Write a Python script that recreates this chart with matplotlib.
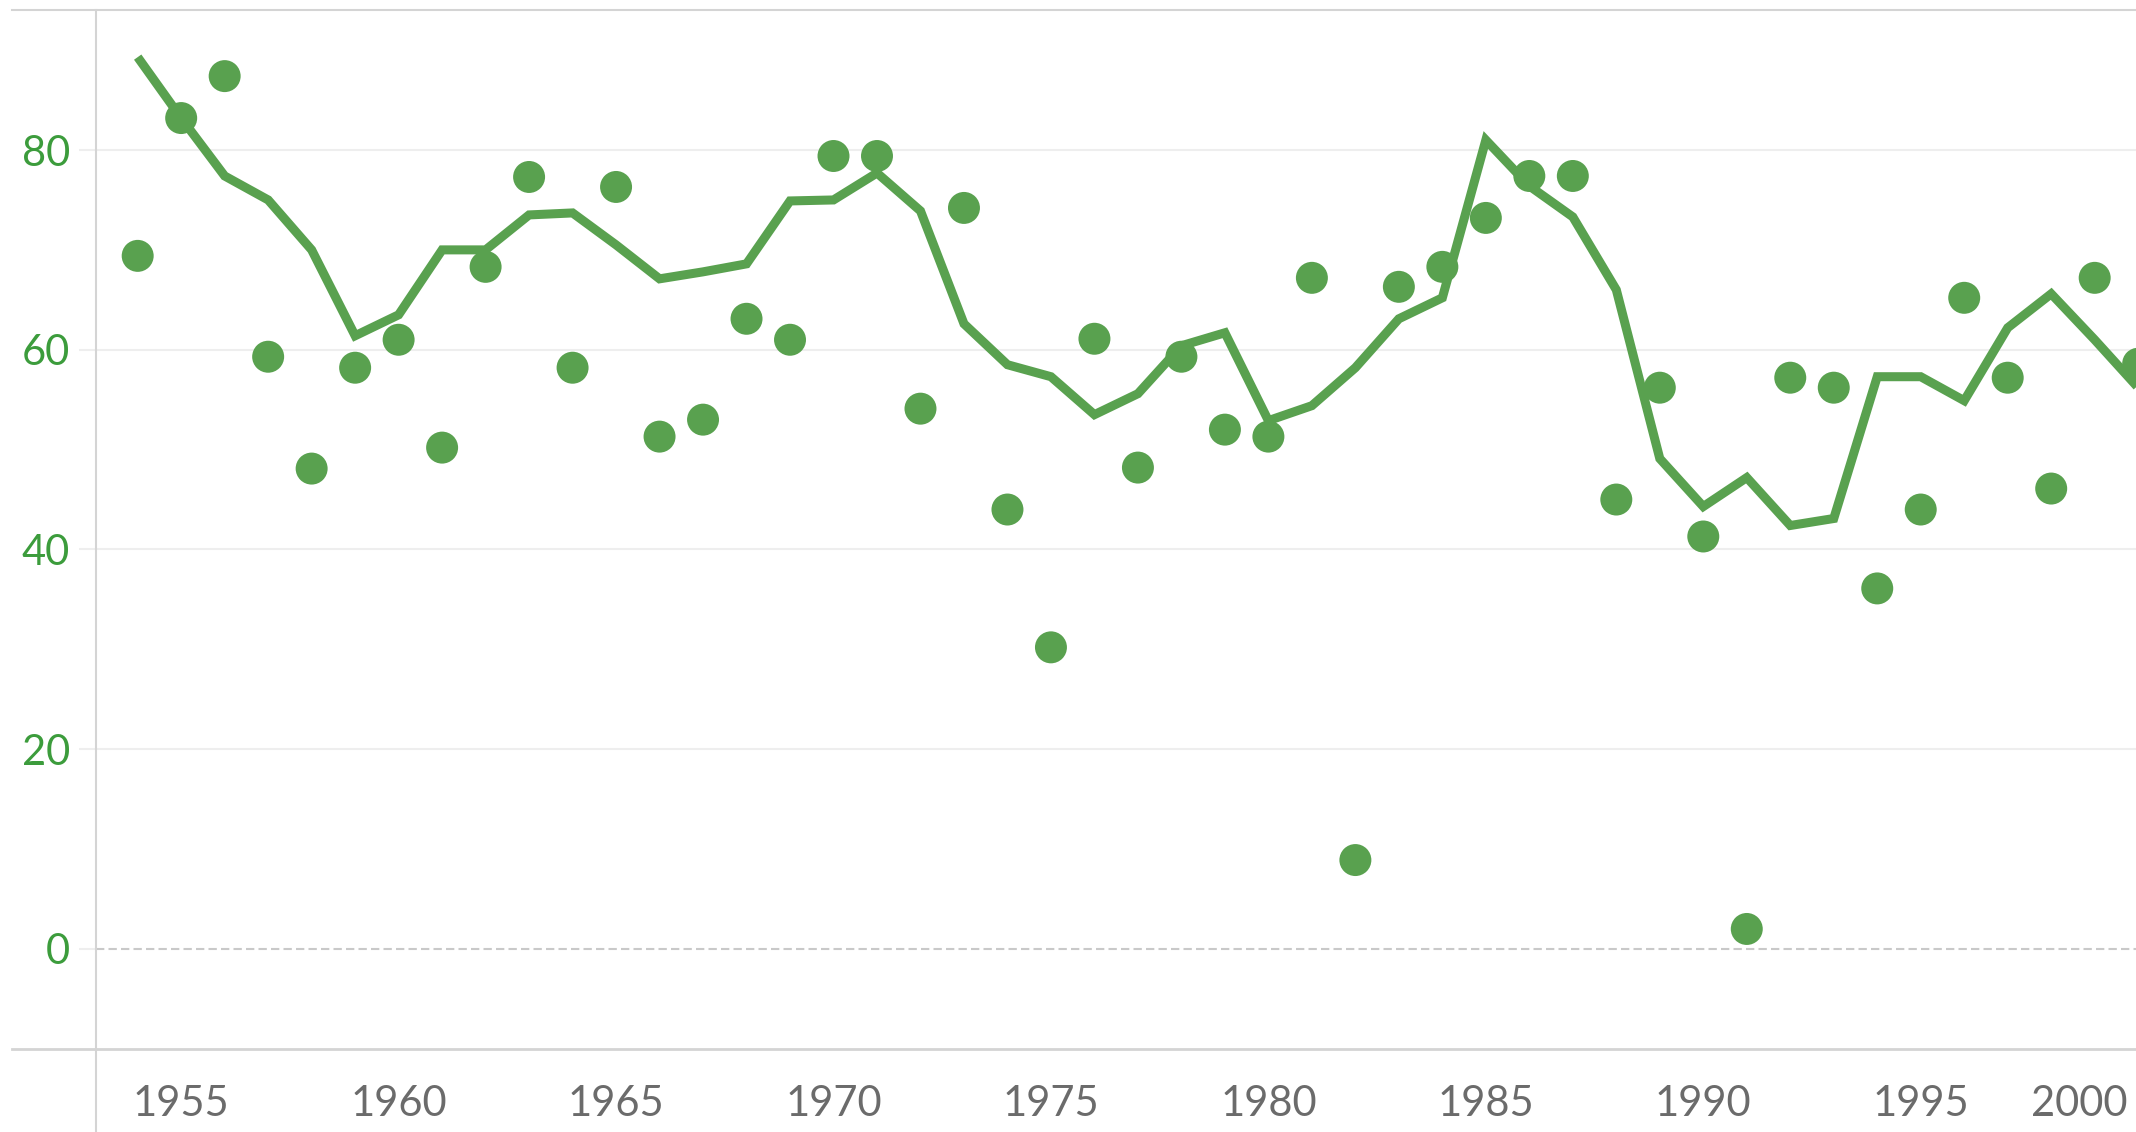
import matplotlib.pyplot as plt
from matplotlib.lines import Line2D
from matplotlib.transforms import blended_transform_factory

# ===============================
# Data
# ===============================
years = list(range(1954, 2001))

yearly_values = [
    69.4, 83.2, 87.4, 59.3, 48.1, 58.2, 61.0, 50.2, 68.3, 77.3,
    58.2, 76.3, 51.3, 53.0, 63.1, 61.0, 79.4, 79.4, 54.1, 74.2,
    44.0, 30.2, 61.1, 48.2, 59.3, 52.0, 51.3, 67.2, 8.9, 66.3,
    68.3, 73.2, 77.4, 77.4, 45.0, 56.2, 41.3, 2.0, 57.2, 56.2,
    36.1, 44.0, 65.2, 57.2, 46.1, 67.2, 58.6,
]

trend_values = [
    89.3, 83.2, 77.4, 75.0, 70.0, 61.4, 63.5, 70.0, 70.0, 73.5,
    73.7, 70.5, 67.1, 67.8, 68.6, 74.9, 75.0, 77.7, 73.9, 62.6,
    58.5, 57.3, 53.5, 55.6, 60.4, 61.7, 52.9, 54.4, 58.2, 63.1,
    65.2, 81.0, 76.4, 73.3, 66.0, 49.1, 44.3, 47.2, 42.4, 43.1,
    57.3, 57.3, 54.9, 62.2, 65.6, 61.0, 56.2,
]

x_ticks = [1955, 1960, 1965, 1970, 1975, 1980, 1985, 1990, 1995]
y_ticks = [0, 20, 40, 60, 80]

# ===============================
# Style
# ===============================
GREEN = "#59a14f"
LABEL_GREEN = "#3c9c3c"
LABEL_GREY = "#6b6b6b"
GRID = "#eeeeee"
BORDER = "#d4d4d4"
FONT = ["Lato", "DejaVu Sans"]
LABEL_SIZE = 30

W, H = 2136, 1132
fig = plt.figure(figsize=(W / 100, H / 100), dpi=100)

ax_left, ax_right = 95.5, W
ax_top, ax_bottom = 9.6, 1049
ax = fig.add_axes([ax_left / W, 1 - ax_bottom / H,
                   (ax_right - ax_left) / W, (ax_bottom - ax_top) / H])

# ===============================
# Marks
# ===============================
ax.plot(years, trend_values, color=GREEN, lw=6.5, solid_joinstyle="miter",
        solid_capstyle="butt", zorder=3)
ax.scatter(years, yearly_values, s=530, color=GREEN, edgecolors="none",
           zorder=4)

ax.set_xlim(1953.03, 1999.95)
ax.set_ylim(-10.02, 94.06)

# gridlines + zero line
for v in y_ticks:
    if v == 0:
        ax.axhline(v, color="#c9c9c9", lw=1.5, ls=(0, (4, 2)), zorder=1)
    else:
        ax.axhline(v, color=GRID, lw=1.5, zorder=1)

for s in ["top", "right", "bottom", "left"]:
    ax.spines[s].set_visible(False)

ax.set_yticks(y_ticks)
ax.set_yticklabels([str(v) for v in y_ticks])
ax.tick_params(axis="y", length=12.5, width=1.5, color=GRID, pad=6,
               labelsize=LABEL_SIZE, labelcolor=LABEL_GREEN)
ax.set_xticks(x_ticks)
ax.set_xticklabels([str(v) for v in x_ticks])
ax.tick_params(axis="x", length=0, pad=26, labelsize=LABEL_SIZE,
               labelcolor=LABEL_GREY)
for lab in ax.get_xticklabels() + ax.get_yticklabels():
    lab.set_family(FONT)

# last year label sits against the right edge
trans = blended_transform_factory(ax.transAxes, ax.transAxes)
ax.text(0.9958, -0.053, "2000", transform=trans, ha="right", va="center",
        fontsize=LABEL_SIZE, color=LABEL_GREY, family=FONT)

# ===============================
# Frame lines (pane borders)
# ===============================
def fig_line(x0, y0, x1, y1, color=BORDER, lw=1.5):
    fig.add_artist(Line2D([x0 / W, x1 / W], [1 - y0 / H, 1 - y1 / H],
                          color=color, lw=lw, transform=fig.transFigure))

fig_line(12, 9.6, W, 9.6)
fig_line(12, 1049, W, 1049, lw=2)
fig_line(ax_left, 9.6, ax_left, H)

fig.savefig("out.png", dpi=100, facecolor="white")
